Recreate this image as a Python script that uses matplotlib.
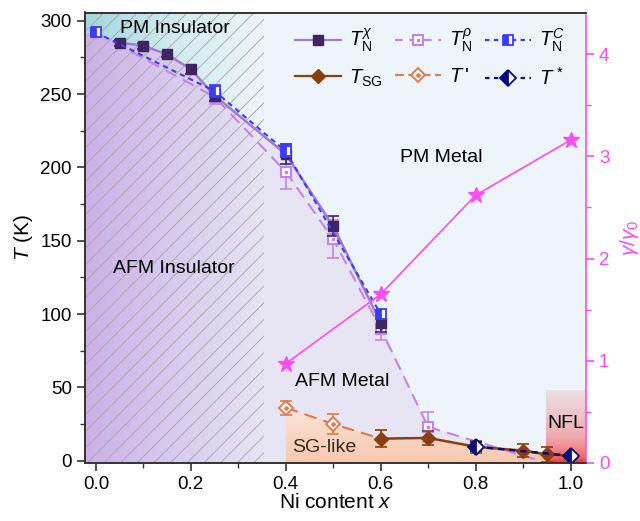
import numpy as np
import matplotlib
matplotlib.use("Agg")
import matplotlib.pyplot as plt
import matplotlib.lines as mlines
from matplotlib.patches import Polygon
from matplotlib.colors import LinearSegmentedColormap
from matplotlib.legend_handler import HandlerTuple

plt.rcParams['font.family'] = ['Liberation Sans', 'DejaVu Sans']
plt.rcParams['mathtext.fontset'] = 'custom'
plt.rcParams['mathtext.rm'] = 'Liberation Sans'
plt.rcParams['mathtext.it'] = 'Liberation Sans:italic'
plt.rcParams['mathtext.bf'] = 'Liberation Sans:bold'
plt.rcParams['hatch.linewidth'] = 0.6

# ---------------- data ----------------
x_chi = [0.05, 0.1, 0.15, 0.2, 0.25, 0.4, 0.5, 0.6]
T_chi = [285, 283, 277, 267, 249, 209, 160, 94]
e_chi = [2, 2, 2, 3, 4, 7, 7, 6]

x_rho = [0.0, 0.25, 0.4, 0.5, 0.6, 0.7]
T_rho = [292, 248, 197, 151, 90, 23]
e_rho = [3, 5, 12, 13, 8, 10]
x_rho_ext = [0.7, 0.935]
T_rho_ext = [23, 0]

x_C = [0.0, 0.25, 0.4, 0.6]
T_C = [292, 252, 211, 100]
e_C = [2, 4, 4, 3]

x_SG = [0.6, 0.7, 0.8, 0.9, 0.95, 1.0]
T_SG = [15, 15.5, 9.5, 6.8, 4.2, 3.4]
e_SG = [6, 5, 4, 4.5, 5, 2]

x_Tp = [0.4, 0.5, 0.6]
T_Tp = [36, 25, 15]
e_Tp = [5, 7, 0]

x_Ts = [0.8, 1.0]
T_Ts = [9.5, 3.4]
e_Ts = [3, 2]

x_gam = [0.4, 0.6, 0.8, 1.0]
gam = [0.97, 1.65, 2.62, 3.16]

xmin, xmax = -0.023, 1.032
ymin, ymax = -1.4, 305.6
x_hatch_end = 0.355
x_sg_start, x_nfl = 0.4, 0.948
T_nfl_top = 48

# colors
c_chi_l, c_chi_m = '#a27ad0', '#3e2562'
c_rho = '#c184f2'
c_C = '#3c3cff'
c_SG = '#8b3f10'
c_Tp = '#e07a50'
c_Ts = '#0a0a80'
c_gam = '#ff4df0'
bg = '#eef5fa'
lav = '#e7e5f3'

fig = plt.figure(figsize=(6.4, 5.21), dpi=100)
ax = fig.add_axes([85/640, 1-462.7/521, (585.7-85)/640, (462.7-12.5)/521])
ax.set_xlim(xmin, xmax)
ax.set_ylim(ymin, ymax)
ax.set_facecolor(bg)

# boundary of the AFM region
bx = [xmin, 0.0] + x_chi + [x for x in x_rho if x > 0.6] + [x_rho_ext[-1]]
bT = [T_C[0], T_C[0]] + T_chi + [t for x, t in zip(x_rho, T_rho) if x > 0.6] + [T_rho_ext[-1]]
afm_poly = list(zip(bx, bT)) + [(bx[-1], ymin), (xmin, ymin)]
p_afm = Polygon(afm_poly, closed=True, facecolor=lav, edgecolor='none', zorder=0.5)
ax.add_patch(p_afm)

# gradient inside insulator (x < hatch end)
grad = np.linspace(0, 1, 256).reshape(1, -1)
cm_purple = LinearSegmentedColormap.from_list('p', ['#cbb1e8', lav])
cm_teal = LinearSegmentedColormap.from_list('t', ['#a2d8de', '#d2ebf0', bg])
im1 = ax.imshow(grad, extent=[xmin, x_hatch_end, ymin, ymax], cmap=cm_purple,
                aspect='auto', origin='lower', zorder=0.6, interpolation='bilinear')
clip1 = Polygon(afm_poly, closed=True, transform=ax.transData, facecolor='none', edgecolor='none')
ax.add_patch(clip1)
im1.set_clip_path(clip1)
top_poly = list(zip(bx, bT)) + [(bx[-1], ymax), (xmin, ymax)]
im2 = ax.imshow(grad, extent=[xmin, x_hatch_end, ymin, ymax], cmap=cm_teal,
                aspect='auto', origin='lower', zorder=0.6, interpolation='bilinear')
clip2 = Polygon(top_poly, closed=True, transform=ax.transData, facecolor='none', edgecolor='none')
ax.add_patch(clip2)
im2.set_clip_path(clip2)

# hatch
ax.fill_between([xmin, x_hatch_end], ymin, ymax, facecolor='none', hatch='//',
                edgecolor='#a4a4a4', linewidth=0, zorder=0.7)

# SG-like region
sg_x = [x_sg_start] + [x for x in x_Tp[1:]] + [x for x in x_SG[1:] if x <= 0.95]
sg_T = [T_Tp[0]] + T_Tp[1:] + [t for x, t in zip(x_SG[1:], T_SG[1:]) if x <= 0.95]
sg_poly = list(zip(sg_x, sg_T)) + [(sg_x[-1], ymin), (x_sg_start, ymin)]
vgrad = np.linspace(0, 1, 256).reshape(-1, 1)
cm_sg = LinearSegmentedColormap.from_list('sg', ['#f7c8ae', '#fbe5d8'])
im3 = ax.imshow(vgrad, extent=[x_sg_start, x_nfl, ymin, max(T_Tp)], cmap=cm_sg,
                aspect='auto', origin='lower', zorder=0.8, interpolation='bilinear')
clip3 = Polygon(sg_poly, closed=True, transform=ax.transData, facecolor='none', edgecolor='none')
ax.add_patch(clip3)
im3.set_clip_path(clip3)

# NFL region
cm_nfl = LinearSegmentedColormap.from_list('n', [(0, '#ff2a2a'), (0.08, '#f46a6a'),
                                                 (0.35, '#f0aab0'), (1.0, '#ece0e2')])
ax.imshow(vgrad, extent=[x_nfl, xmax, ymin, T_nfl_top], cmap=cm_nfl,
          aspect='auto', origin='lower', zorder=0.9, interpolation='bilinear')

# ---------------- data lines ----------------
ms = 7
cs = 4
ax2 = ax.twinx()
ax2.set_ylim(0.006, 4.41)
ax2.plot(x_gam, gam, '-', color=c_gam, lw=1.2, marker='*', ms=12, mec=c_gam, mfc=c_gam, zorder=3)

# T_N rho
ax.errorbar(x_rho, T_rho, yerr=e_rho, fmt='none', ecolor=c_rho, elinewidth=1.2, capsize=cs, capthick=1.2, zorder=3)
ax.plot(x_rho_ext, T_rho_ext, color=c_rho, lw=1.5, dashes=(6, 3.5), zorder=3)
ax.plot(x_rho, T_rho, color=c_rho, lw=1.5, dashes=(6, 3.5), marker='s', ms=ms,
        mfc='white', mec=c_rho, mew=1.5, zorder=3.1)
ax.plot(x_rho, T_rho, ls='none', marker='s', ms=2, mfc=c_rho, mec=c_rho, zorder=3.2)

# T_N chi
ax.errorbar(x_chi, T_chi, yerr=e_chi, fmt='none', ecolor=c_chi_m, elinewidth=1.2, capsize=cs, capthick=1.2, zorder=3.3)
ax.plot(x_chi, T_chi, '-', color=c_chi_l, lw=1.8, marker='s', ms=ms,
        mfc=c_chi_m, mec=c_chi_m, zorder=3.4)

# T_N C
ax.errorbar(x_C, T_C, yerr=e_C, fmt='none', ecolor=c_C, elinewidth=1.2, capsize=cs, capthick=1.2, zorder=3.5)
ax.plot(x_C, T_C, color=c_C, lw=1.5, dashes=(2.5, 2), marker='s', ms=ms,
        mfc=c_C, mec=c_C, fillstyle='left', markerfacecoloralt='white', mew=1.3, zorder=3.6)

# T'
ax.errorbar(x_Tp[:2], T_Tp[:2], yerr=e_Tp[:2], fmt='none', ecolor=c_Tp, elinewidth=1.2, capsize=cs, capthick=1.2, zorder=3)
ax.plot(x_Tp, T_Tp, color=c_Tp, lw=1.5, dashes=(6, 3.5), zorder=3.1)
ax.plot(x_Tp[:2], T_Tp[:2], ls='none', marker='D', ms=7, mfc='white', mec=c_Tp, mew=1.4, zorder=3.2)
ax.plot(x_Tp[:2], T_Tp[:2], ls='none', marker='D', ms=2, mfc=c_Tp, mec=c_Tp, zorder=3.3)

# T_SG
ax.errorbar(x_SG, T_SG, yerr=e_SG, fmt='none', ecolor=c_SG, elinewidth=1.2, capsize=cs, capthick=1.2, zorder=3.4)
ax.plot(x_SG, T_SG, '-', color=c_SG, lw=1.8, marker='D', ms=7, mfc=c_SG, mec=c_SG, zorder=3.5)

# T*
ax.errorbar(x_Ts, T_Ts, yerr=e_Ts, fmt='none', ecolor=c_Ts, elinewidth=1.2, capsize=cs, capthick=1.2, zorder=3.6)
ax.plot(x_Ts, T_Ts, color=c_Ts, lw=1.8, dashes=(2.5, 2), marker='D', ms=8,
        mfc=c_Ts, mec=c_Ts, fillstyle='left', markerfacecoloralt='white', mew=1.3, zorder=3.7)

ax.set_zorder(0)
ax2.set_zorder(1)
ax2.patch.set_visible(False)

# legend handles
def proxy(color, dashes, marker, mfc, mec, ms_, **kw):
    l = mlines.Line2D([], [], color=color, lw=1.6, marker=marker, ms=ms_, mfc=mfc, mec=mec, **kw)
    if dashes is not None:
        l.set_dashes(dashes)
    return l
lg_chi = proxy(c_chi_l, None, 's', c_chi_m, c_chi_m, 7)
lg_rho = (proxy(c_rho, (3.5, 3), 's', 'white', c_rho, 7, mew=1.5),
          mlines.Line2D([], [], ls='none', marker='s', ms=2, mfc=c_rho, mec=c_rho))
lg_C = proxy(c_C, (2, 2), 's', c_C, c_C, 7, fillstyle='left', markerfacecoloralt='white', mew=1.3)
lg_SG = proxy(c_SG, None, 'D', c_SG, c_SG, 7)
lg_Tp = (proxy(c_Tp, (4, 2), 'D', 'white', c_Tp, 7, mew=1.4),
         mlines.Line2D([], [], ls='none', marker='D', ms=2, mfc=c_Tp, mec=c_Tp))
lg_Ts = proxy(c_Ts, (2, 2), 'D', c_Ts, c_Ts, 8, fillstyle='left', markerfacecoloralt='white', mew=1.3)

handles = [lg_chi, lg_SG, lg_rho, lg_Tp, lg_C, lg_Ts]
labels = [r'$T_{\rm N}^{\chi}$', r'$T_{\rm SG}$', r'$T_{\rm N}^{\rho}$', r"$T\,$'",
          r'$T_{\rm N}^{C}$', r'$T^{\,*}$']
leg = ax2.legend(handles, labels, ncol=3, frameon=False, fontsize=14.5,
                 handler_map={tuple: HandlerTuple(ndivide=1, pad=0)},
                 loc='upper left', bbox_to_anchor=(0.419, 0.968), handlelength=2.3,
                 columnspacing=0.6, handletextpad=0.4, labelspacing=0.65,
                 borderaxespad=0, borderpad=0)

# region labels
fs = 14
ax.text(0.05, 295, 'PM Insulator', fontsize=fs, va='center', ha='left', zorder=5)
ax.text(0.036, 131, 'AFM Insulator', fontsize=fs, va='center', ha='left', zorder=5)
ax.text(0.64, 207, 'PM Metal', fontsize=fs, va='center', ha='left', zorder=5)
ax.text(0.42, 54, 'AFM Metal', fontsize=fs, va='center', ha='left', zorder=5)
ax.text(0.413, 9, 'SG-like', fontsize=fs, va='center', ha='left', zorder=5, color='#3a2a20')
ax.text(0.952, 25, 'NFL', fontsize=fs, va='center', ha='left', zorder=5)

# axes styling
ax.set_xticks([0.0, 0.2, 0.4, 0.6, 0.8, 1.0])
ax.set_xticks([0.1, 0.3, 0.5, 0.7, 0.9], minor=True)
ax.set_yticks([0, 50, 100, 150, 200, 250, 300])
ax.set_yticks([25, 75, 125, 175, 225, 275], minor=True)
ax.xaxis.set_major_formatter(matplotlib.ticker.FormatStrFormatter('%.1f'))
ax.tick_params(axis='both', which='major', direction='out', length=6, width=1.2, labelsize=13.5, color='#333333')
ax.tick_params(axis='both', which='minor', direction='out', length=3.5, width=1.0, color='#333333')
ax.tick_params(axis='x', which='both', top=False)
ax.set_xlabel(r'Ni content $x$', fontsize=15, labelpad=0)
ax.set_ylabel(r'$T$ (K)', fontsize=15, labelpad=4)

ax2.set_yticks([0, 1, 2, 3, 4])
ax2.set_yticks([0.5, 1.5, 2.5, 3.5], minor=True)
ax2.tick_params(axis='y', which='major', direction='out', length=6, width=1.2, labelsize=13.5,
                color=c_gam, labelcolor=c_gam)
ax2.tick_params(axis='y', which='minor', direction='out', length=3.5, width=1.0, color=c_gam)
ax2.set_ylabel(r'$\gamma/\gamma_0$', color=c_gam, fontsize=15, labelpad=6)
for side in ['left', 'bottom', 'top']:
    ax2.spines[side].set_color('#333333')
    ax2.spines[side].set_linewidth(1.2)
    ax.spines[side].set_color('#333333')
    ax.spines[side].set_linewidth(1.2)
ax2.spines['right'].set_color(c_gam)
ax2.spines['right'].set_linewidth(1.2)
ax.spines['right'].set_visible(False)

fig.savefig('out.png', dpi=100)
